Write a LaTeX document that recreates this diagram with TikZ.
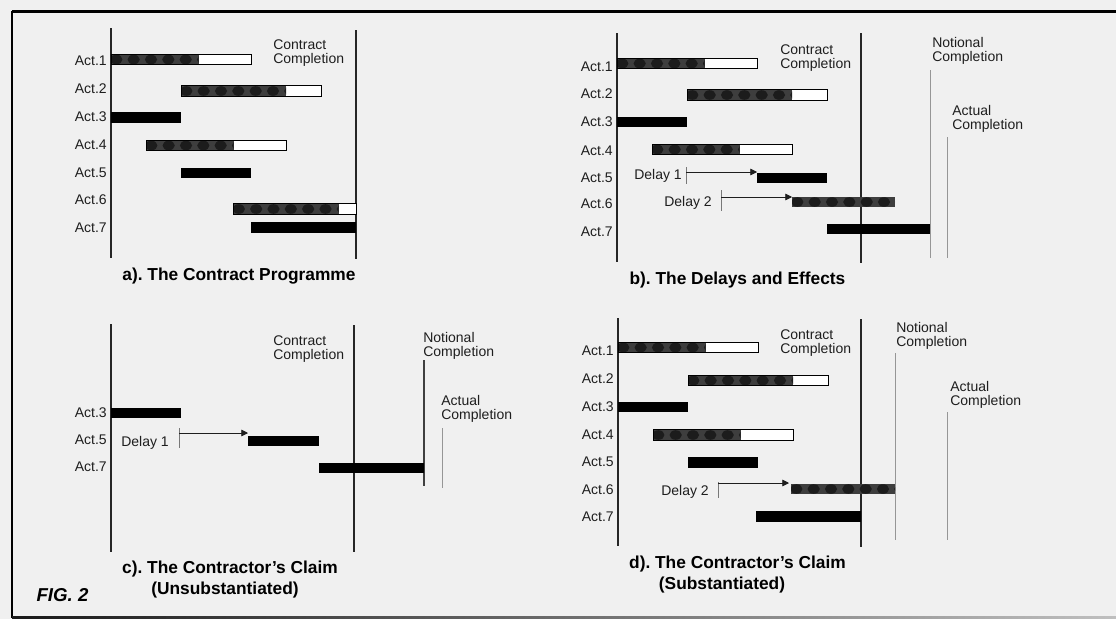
\documentclass[tikz,border=0pt]{standalone}
\usepackage{fontspec}
\setmainfont{Liberation Sans}
\usetikzlibrary{arrows.meta}
\frenchspacing
\definecolor{paper}{RGB}{240,240,240}
\definecolor{ink}{RGB}{30,30,30}
\definecolor{barmid}{RGB}{62,62,62}
\definecolor{blob}{RGB}{28,28,28}
\definecolor{thinc}{RGB}{150,150,150}
\tikzset{
  lbl/.style={font=\fontsize{10.5}{10.5}\selectfont, text=ink, inner sep=0pt},
  actlbl/.style={lbl, anchor=east},
  cmpl/.style={lbl, anchor=west, align=left},
  ttl/.style={font=\fontsize{13}{14}\selectfont\bfseries, text=black, inner sep=0pt},
  figlbl/.style={font=\fontsize{14}{14}\selectfont\bfseries\itshape, text=black, inner sep=0pt},
  axisline/.style={line width=1pt, draw=black!85},
  thinline/.style={line width=0.6pt, draw=thinc},
  darkthin/.style={line width=0.9pt, draw=black!75},
  barbox/.style={draw=black, line width=0.6pt, fill=white},
  darktex/.style={fill=barmid, path picture={\foreach \i in {0,...,14}{\fill[blob] ([xshift=\i*13pt+4pt]path picture bounding box.west) ellipse (4.6pt and 3.6pt);}}},
  ticky/.style={line width=0.6pt, draw=thinc!80!black},
  delayarrow/.style={line width=0.5pt, draw=ink, -{Triangle[length=5pt,width=5pt]}},
}
\newcommand{\ganttbar}[4]{%
  \path[barbox] (#1,#4-5.25) rectangle (#3,#4+5.25);
  \path[darktex] (#1,#4-5.25) rectangle (#2,#4+5.25);
  \draw[black,line width=0.6pt] (#1,#4-5.25) rectangle (#3,#4+5.25);
}
\newcommand{\solidbar}[3]{\fill[black] (#1,#3-5.25) rectangle (#2,#3+5.25);}
\newcommand{\mottledbar}[3]{\path[darktex] (#1,#3-5.25) rectangle (#2,#3+5.25);}
\begin{document}
\begin{tikzpicture}[x=0.75pt,y=-0.75pt]
\fill[paper] (0,0) rectangle (1116,619);
\useasboundingbox (0,0) rectangle (1116,619);
% frame
\draw[line width=2.2pt, black] (12,11.5) -- (1116,11.5);
\draw[line width=2pt, black] (12,10.5) -- (12,617.5);
\shade[left color=black!90, right color=black!25] (12,616) rectangle (1116,618.5);

% ===== panel a =====
\draw[axisline] (111,28) -- (111,258);
\draw[axisline] (356,30) -- (356,259);
\foreach \n/\y in {1/61,2/89,3/117,4/145,5/173,6/200,7/228}
  \node[actlbl] (aa\n) at (107,\y) {Act.\n};
\ganttbar{111}{198.5}{251}{59.5}
\ganttbar{181}{286}{321}{91}
\solidbar{111}{181}{117.5}
\ganttbar{146}{233.5}{286}{145.5}
\solidbar{181}{251}{173}
\ganttbar{233.5}{338.5}{356}{209}
\solidbar{251}{356}{227.5}
\node[cmpl] (acc) at (273,53.5) {Contract\\Completion};
\node[ttl] (ta) at (239,276) {a). The Contract Programme};

% ===== panel b =====
\draw[axisline] (617,33) -- (617,262);
\draw[axisline] (861,33) -- (861,263);
\draw[thinline] (930,70) -- (930,258);
\draw[thinline] (947,137) -- (947,258);
\foreach \n/\y in {1/67,2/94,3/122,4/151,5/178,6/204,7/232}
  \node[actlbl] (ba\n) at (613,\y) {Act.\n};
\ganttbar{617}{704.5}{757}{63.5}
\ganttbar{687}{792}{827}{95}
\solidbar{617}{687}{122}
\ganttbar{652}{739.5}{792}{149.5}
\solidbar{757}{827}{178}
\mottledbar{792}{895}{202}
\solidbar{827}{930}{229}
\node[cmpl] (bcc) at (780,58) {Contract\\Completion};
\node[cmpl] (bnc) at (932,51) {Notional\\Completion};
\node[cmpl] (bac) at (952,118.5) {Actual\\Completion};
\node[lbl] (bd1) at (658,176) {Delay 1};
\node[lbl] (bd2) at (688,203) {Delay 2};
\draw[ticky] (686,167) -- (686,184);
\coordinate (bt1) at (686,172);
\coordinate (bs5) at (757,172);
\draw[delayarrow] (bt1) -- (bs5);
\draw[ticky] (721,190) -- (721,211);
\coordinate (bt2) at (721,197);
\coordinate (bs6) at (792,197);
\draw[delayarrow] (bt2) -- (bs6);
\node[ttl] (tb) at (737.5,280) {b). The Delays and Effects};

% ===== panel c =====
\draw[axisline] (111,324) -- (111,552);
\draw[axisline] (354,325) -- (354,552);
\draw[darkthin] (424,360) -- (424,486);
\draw[thinline] (442,428) -- (442,488);
\node[actlbl] (ca3) at (107,413) {Act.3};
\node[actlbl] (ca5) at (107,440) {Act.5};
\node[actlbl] (ca7) at (107,467) {Act.7};
\solidbar{111}{181}{413}
\solidbar{248}{319}{441}
\solidbar{319}{424}{468}
\node[cmpl] (ccc) at (273,349) {Contract\\Completion};
\node[cmpl] (cnc) at (423,346) {Notional\\Completion};
\node[cmpl] (cac) at (441,409) {Actual\\Completion};
\node[lbl] (cd1) at (145,443) {Delay 1};
\draw[ticky] (179,428) -- (179,448);
\coordinate (ct1) at (179,433);
\coordinate (cs5) at (248,433);
\draw[delayarrow] (ct1) -- (cs5);
\node[ttl] (tc1) at (230,569) {c). The Contractor's Claim};
\node[ttl] (tc2) at (225,590) {(Unsubstantiated)};
\node[figlbl] (fig) at (62.5,595) {FIG. 2};

% ===== panel d =====
\draw[axisline] (618,318) -- (618,546);
\draw[axisline] (861,319) -- (861,547);
\draw[thinline] (895,353) -- (895,540);
\draw[thinline] (947,412) -- (947,540);
\foreach \n/\y in {1/351,2/379,3/407,4/435,5/462,6/490,7/517}
  \node[actlbl] (da\n) at (614,\y) {Act.\n};
\ganttbar{618}{705.5}{758}{347.5}
\ganttbar{688}{793}{828}{380.5}
\solidbar{618}{688}{407}
\ganttbar{653}{740.5}{793}{435}
\solidbar{688}{758}{462.5}
\mottledbar{791}{895}{489}
\solidbar{756}{861}{516.5}
\node[cmpl] (dcc) at (780,343) {Contract\\Completion};
\node[cmpl] (dnc) at (896,336) {Notional\\Completion};
\node[cmpl] (dac) at (950,395) {Actual\\Completion};
\node[lbl] (dd2) at (685,492) {Delay 2};
\draw[ticky] (718,482) -- (718,498);
\coordinate (dt2) at (718,483);
\coordinate (ds6) at (789,483);
\draw[delayarrow] (dt2) -- (ds6);
\node[ttl] (td1) at (737.5,564) {d). The Contractor's Claim};
\node[ttl] (td2) at (722,585) {(Substantiated)};
\end{tikzpicture}
\end{document}
